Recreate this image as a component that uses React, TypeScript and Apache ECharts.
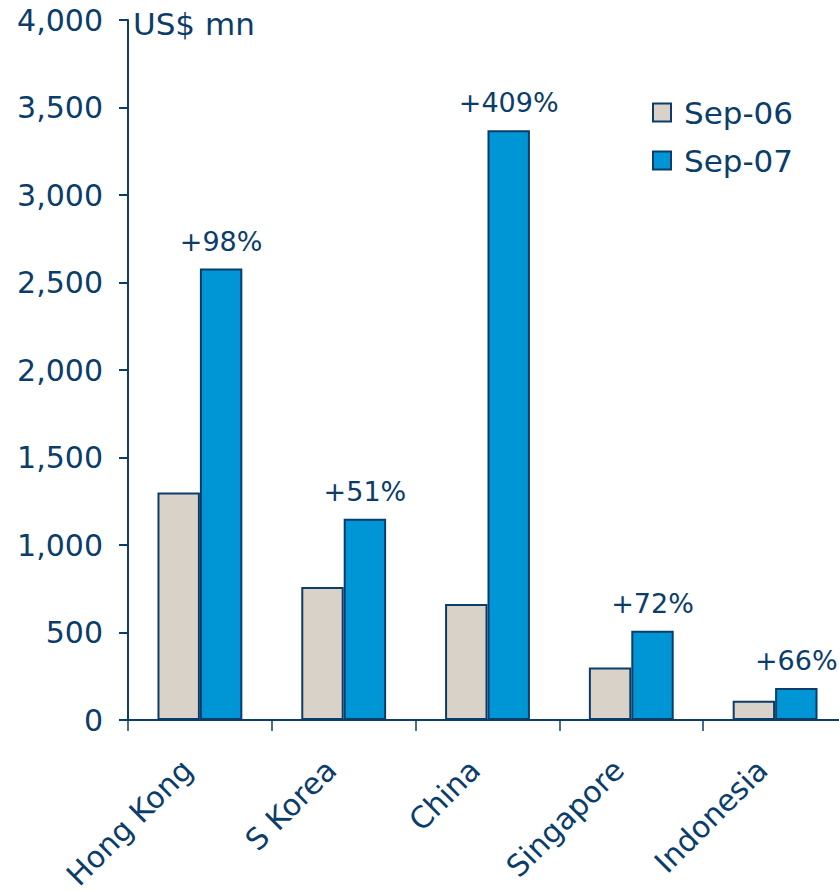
import React, { useEffect, useRef } from "react";
import * as echarts from "echarts";

const categories = ["Hong Kong", "S Korea", "China", "Singapore", "Indonesia"];
const sep06 = [1300, 760, 663, 300, 110];
const sep07 = [2580, 1150, 3370, 510, 183];
const growthLabels = ["+98%", "+51%", "+409%", "+72%", "+66%"];

const NAVY = "#0b3d6b";
const FONT = "DejaVu Sans, Verdana, sans-serif";

export default function App() {
  const ref = useRef<HTMLDivElement>(null);
  useEffect(() => {
    if (!ref.current) return;
    const chart = echarts.init(ref.current, undefined, { renderer: "svg" });
    chart.setOption({
      animation: false,
      textStyle: { fontFamily: FONT },
      grid: {
        left: 128,
        right: 0,
        top: 20,
        bottom: 173,
        containLabel: false,
        outerBoundsMode: "none",
      },
      graphic: [
        {
          type: "text",
          left: 133,
          top: 8,
          style: { text: "US$ mn", fontSize: 31, fill: NAVY, fontFamily: FONT },
        },
      ],
      legend: {
        orient: "vertical",
        left: 647,
        top: 92,
        itemWidth: 18,
        itemHeight: 18,
        itemGap: 17,
        icon: "rect",
        textStyle: { fontSize: 31, color: NAVY, fontFamily: FONT, padding: [0, 0, 0, 8] },
        data: ["Sep-06", "Sep-07"],
      },
      xAxis: {
        type: "category",
        data: categories,
        axisLine: { lineStyle: { color: NAVY, width: 2 } },
        axisTick: { show: true, length: 11, lineStyle: { color: NAVY, width: 1.5 } },
        axisLabel: {
          rotate: 45,
          fontSize: 30,
          color: NAVY,
          margin: 32,
          padding: [0, 18, 0, 0],
          fontFamily: FONT,
          interval: 0,
        },
      },
      yAxis: {
        type: "value",
        min: 0,
        max: 4000,
        interval: 500,
        axisLine: { show: true, lineStyle: { color: NAVY, width: 2 } },
        axisTick: { show: true, length: 9, lineStyle: { color: NAVY, width: 2 } },
        splitLine: { show: false },
        axisLabel: {
          fontSize: 30,
          color: NAVY,
          margin: 25,
          fontFamily: FONT,
          formatter: (v: number) => v.toLocaleString("en-US"),
        },
      },
      series: [
        {
          name: "Sep-06",
          type: "bar",
          data: sep06,
          barGap: "0%",
          barCategoryGap: "41%",
          itemStyle: { color: "#d9d2c9", borderColor: NAVY, borderWidth: 2 },
        },
        {
          name: "Sep-07",
          type: "bar",
          data: sep07,
          barGap: "0%",
          barCategoryGap: "41%",
          itemStyle: { color: "#0096d6", borderColor: NAVY, borderWidth: 2 },
          label: {
            show: true,
            position: "top",
            distance: 14,
            fontSize: 27,
            color: NAVY,
            fontFamily: FONT,
            formatter: (p: any) => growthLabels[p.dataIndex],
          },
        },
      ],
    });
    return () => chart.dispose();
  }, []);
  return (
    <div
      style={{ position: "absolute", left: 0, top: 0, width: 839, height: 893, overflow: "hidden" }}
    >
      <div ref={ref} style={{ width: 847, height: 893 }} />
    </div>
  );
}
